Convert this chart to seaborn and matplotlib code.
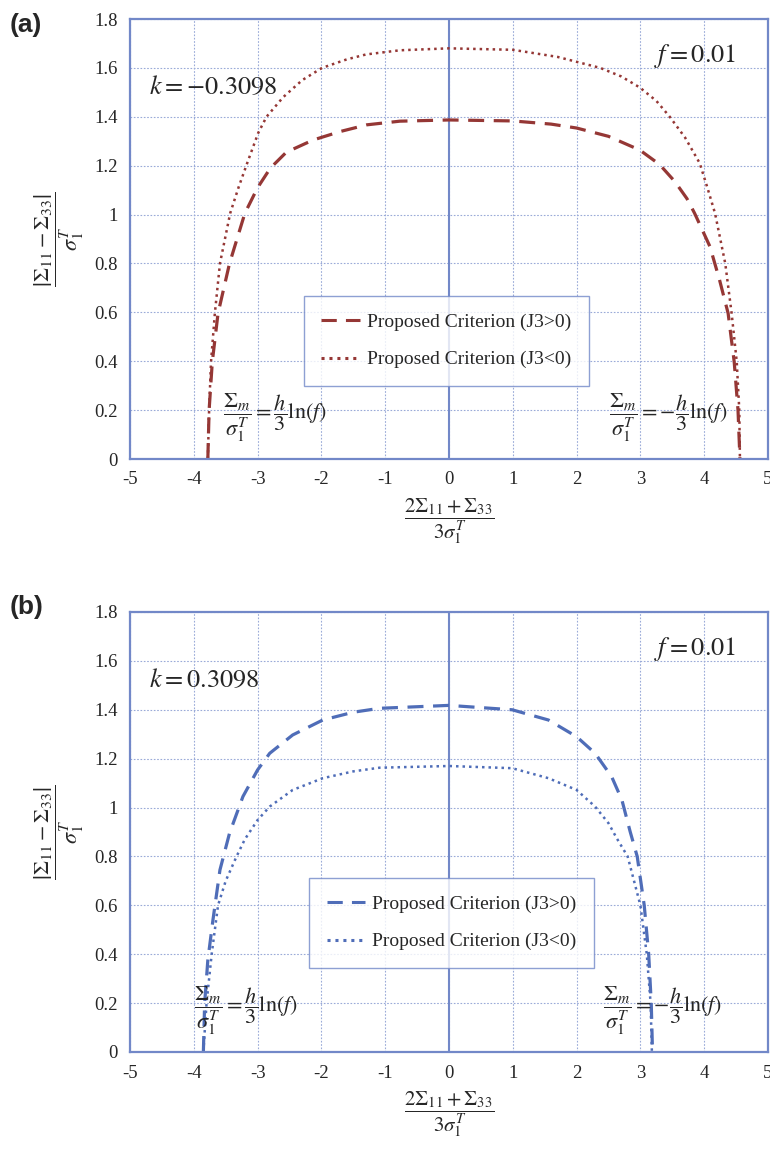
import matplotlib
matplotlib.use("Agg")
import matplotlib.pyplot as plt
import seaborn as sns
import pandas as pd

# ---- data ----
a_pos_x = [-3.78, -3.76, -3.71, -3.62, -3.44, -3.20, -3.00, -2.80, -2.55, -2.13, -1.70, -1.29, -0.77, 0.00,
           1.00, 1.60, 2.00, 2.50, 2.99, 3.30, 3.54, 3.73, 3.85, 4.09, 4.24, 4.375, 4.47, 4.53, 4.56]
a_pos_y = [0.00, 0.20, 0.398, 0.596, 0.80, 1.005, 1.11, 1.19, 1.255, 1.305, 1.34, 1.367, 1.382, 1.387,
           1.383, 1.37, 1.354, 1.32, 1.264, 1.205, 1.135, 1.065, 1.005, 0.869, 0.733, 0.596, 0.398, 0.20, 0.00]
a_neg_x = [-3.78, -3.76, -3.73, -3.67, -3.59, -3.43, -3.30, -3.15, -2.99, -2.86, -2.60, -2.30, -1.99, -1.60,
           -1.30, -0.77, 0.00, 1.00, 1.70, 2.37, 2.70, 2.99, 3.25, 3.46, 3.70, 3.93, 4.05, 4.17, 4.33, 4.43,
           4.51, 4.55, 4.56]
a_neg_y = [0.00, 0.20, 0.398, 0.596, 0.80, 1.005, 1.11, 1.22, 1.334, 1.40, 1.48, 1.55, 1.60, 1.635,
           1.655, 1.672, 1.68, 1.674, 1.645, 1.60, 1.565, 1.52, 1.465, 1.40, 1.315, 1.21, 1.11, 1.005, 0.80,
           0.596, 0.398, 0.20, 0.00]

b_pos_x = [-3.85, -3.83, -3.78, -3.70, -3.59, -3.44, -3.23, -3.00, -2.81, -2.45, -1.98, -1.50, -1.09, 0.00,
           0.99, 1.56, 2.00, 2.29, 2.55, 2.71, 2.84, 2.95, 3.06, 3.13, 3.17, 3.19]
b_pos_y = [0.00, 0.20, 0.376, 0.54, 0.745, 0.895, 1.045, 1.154, 1.222, 1.297, 1.358, 1.39, 1.406, 1.418,
           1.40, 1.358, 1.29, 1.222, 1.126, 1.031, 0.901, 0.80, 0.60, 0.40, 0.20, 0.00]
b_neg_x = [-3.85, -3.80, -3.72, -3.62, -3.50, -3.33, -3.20, -3.00, -2.81, -2.45, -1.98, -1.50, -1.09, 0.00,
           0.99, 1.56, 2.00, 2.29, 2.50, 2.63, 2.80, 3.00, 3.10, 3.16, 3.18]
b_neg_y = [0.00, 0.20, 0.40, 0.60, 0.70, 0.80, 0.87, 0.949, 1.004, 1.072, 1.12, 1.148, 1.163, 1.17,
           1.161, 1.12, 1.072, 1.004, 0.936, 0.874, 0.80, 0.60, 0.40, 0.20, 0.00]

x_ticks = [-5, -4, -3, -2, -1, 0, 1, 2, 3, 4, 5]
y_ticks = [0, 0.2, 0.4, 0.6, 0.8, 1.0, 1.2, 1.4, 1.6, 1.8]
y_tick_labels = ["0", "0.2", "0.4", "0.6", "0.8", "1", "1.2", "1.4", "1.6", "1.8"]
legend_labels = ["Proposed Criterion (J3>0)", "Proposed Criterion (J3<0)"]
panel_labels = ["(a)", "(b)"]
k_texts = [r"$k=-0.3098$", r"$k=0.3098$"]
f_text = r"$f=0.01$"

sns.set_style("white")
plt.rcParams["font.family"] = ["Liberation Serif", "DejaVu Serif"]
plt.rcParams["mathtext.fontset"] = "stix"

red = "#953735"
blue = "#4F6DB8"
axis_col = "#7288C8"
grid_col = "#9AAAD8"

fig = plt.figure(figsize=(7.7, 11.54), dpi=100)
ax_a = fig.add_axes([130/770, 1-459/1154, 638/770, 440/1154])
ax_b = fig.add_axes([130/770, 1-1052/1154, 638/770, 440/1154])

panels = [
    (ax_a, a_pos_x, a_pos_y, a_neg_x, a_neg_y, red, 0, (-3.55, 0.17), (2.5, 0.17), (0.496, 0.268)),
    (ax_b, b_pos_x, b_pos_y, b_neg_x, b_neg_y, blue, 1, (-4.0, 0.17), (2.42, 0.17), (0.504, 0.293)),
]

for ax, px, py, nx, ny, col, i, lpos, rpos, legc in panels:
    dfp = pd.DataFrame({"x": px, "y": py})
    dfn = pd.DataFrame({"x": nx, "y": ny})
    ax.set_xlim(-5, 5)
    ax.set_ylim(0, 1.8)
    ax.set_xticks(x_ticks)
    ax.set_xticklabels([str(v) for v in x_ticks])
    ax.set_yticks(y_ticks)
    ax.set_yticklabels(y_tick_labels)
    ax.grid(True, linestyle=(0, (1.5, 1.5)), color=grid_col, linewidth=0.8)
    ax.set_axisbelow(True)
    ax.axvline(0, color=axis_col, lw=1.5, zorder=1)
    for s in ax.spines.values():
        s.set_color(axis_col)
        s.set_linewidth(1.6)
    ax.tick_params(axis="both", length=0, labelsize=13.5, pad=9)

    sns.lineplot(data=dfp, x="x", y="y", ax=ax, sort=False, estimator=None,
                 color=col, lw=2.3, label=legend_labels[0])
    sns.lineplot(data=dfn, x="x", y="y", ax=ax, sort=False, estimator=None,
                 color=col, lw=1.8, label=legend_labels[1])
    ax.lines[-2].set_dashes((5, 3))
    ax.lines[-1].set_dashes((1, 1.6))

    leg = ax.legend(loc="center", bbox_to_anchor=legc,
                    fontsize=14, frameon=True, fancybox=False, handlelength=2.0,
                    handletextpad=0.35, labelspacing=1.0, borderpad=0.9,
                    borderaxespad=0, edgecolor=axis_col)
    leg.get_frame().set_linewidth(1.0)
    for h in leg.get_lines():
        h.set_linewidth(2.2)
    leg.get_lines()[0].set_dashes((5, 3))
    leg.get_lines()[1].set_dashes((1, 1.6))

    ax.set_xlabel(r"$\dfrac{2\Sigma_{11}+\Sigma_{33}}{3\sigma_1^{T}}$", fontsize=15, labelpad=6)
    ax.set_ylabel(r"$\dfrac{\left|\Sigma_{11}-\Sigma_{33}\right|}{\sigma_1^{T}}$", fontsize=16,
                  labelpad=6)
    ax.text(-4.7, 1.52, k_texts[i], fontsize=19, va="center", ha="left")
    ax.text(4.5, 1.65, f_text, fontsize=19, va="center", ha="right")
    ax.text(lpos[0], lpos[1], r"$\dfrac{\Sigma_m}{\sigma_1^T}=\dfrac{h}{3}\ln\!\left(f\right)$",
            fontsize=16, va="center", ha="left")
    ax.text(rpos[0], rpos[1], r"$\dfrac{\Sigma_m}{\sigma_1^T}=-\dfrac{h}{3}\ln\!\left(f\right)$",
            fontsize=16, va="center", ha="left")

fig.text(10/770, 1-25/1154, panel_labels[0], fontsize=19, fontweight="bold",
         family=["Liberation Sans", "DejaVu Sans"], va="center", ha="left")
fig.text(10/770, 1-607/1154, panel_labels[1], fontsize=19, fontweight="bold",
         family=["Liberation Sans", "DejaVu Sans"], va="center", ha="left")

fig.savefig("out.png", dpi=100)
